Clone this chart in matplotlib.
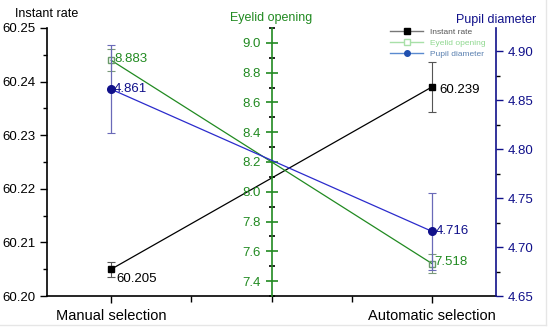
import matplotlib.pyplot as plt
from matplotlib.ticker import MultipleLocator, FixedLocator
from matplotlib.lines import Line2D

groups = ["Manual selection", "Automatic selection"]
instant_rate = [60.205, 60.239]
instant_err = [0.0014, 0.0046]
eyelid = [8.883, 7.518]
eyelid_err = [0.074, 0.064]
pupil = [4.861, 4.716]
pupil_err = [0.045, 0.039]

c_rate = "black"
c_eye = "#218a21"
c_pupil = "#10108a"
c_pline = "#2b2bcc"

plt.rcParams['font.family'] = ['Liberation Sans', 'DejaVu Sans']

fig = plt.figure(figsize=(5.5, 3.32), dpi=100)
# faint frame lines at the bottom and right of the picture
fig.add_artist(Line2D([0, 0.993], [0.022, 0.022], color='#e6e6e6', lw=1))
fig.add_artist(Line2D([0.993, 0.993], [0.022, 1], color='#e6e6e6', lw=1))

ax = fig.add_axes([0.0855, 0.1084, 0.8165, 0.8073])
x = [0, 1]

# left axis: instant rate
ax.errorbar(x, instant_rate, yerr=instant_err, color=c_rate, lw=0.9, marker='s', ms=5,
            ecolor='#555555', elinewidth=0.8, capsize=3, capthick=0.8, zorder=5)
ax.set_xlim(-0.2, 1.2)
ax.set_ylim(60.20, 60.25)
ax.yaxis.set_major_locator(MultipleLocator(0.01))
ax.yaxis.set_minor_locator(MultipleLocator(0.005))
ax.yaxis.set_major_formatter(plt.FormatStrFormatter('%.2f'))
ax.set_xticks(x)
ax.set_xticklabels(groups, fontsize=10.5)
ax.xaxis.set_minor_locator(FixedLocator([0.25, 0.5, 0.75]))
ax.tick_params(axis='y', labelsize=9.5, direction='out', length=5, width=1)
ax.tick_params(axis='y', which='minor', length=3, width=1)
ax.tick_params(axis='x', direction='out', length=5, width=1, pad=4)
ax.tick_params(axis='x', which='minor', length=4, width=1)
ax.spines['top'].set_visible(False)
ax.spines['right'].set_visible(False)
ax.spines['left'].set_linewidth(1.2)
ax.spines['bottom'].set_linewidth(1.2)
ax.text(-0.2, 60.2515, "Instant rate", ha='center', va='bottom', fontsize=9)
ax.annotate(f"{instant_rate[0]:.3f}", (0, instant_rate[0]), xytext=(4, -7),
            textcoords='offset points', va='center', fontsize=9.5)
ax.annotate(f"{instant_rate[1]:.3f}", (1, instant_rate[1]), xytext=(5, -2),
            textcoords='offset points', va='center', fontsize=9.5)

# middle axis: eyelid opening
ax2 = ax.twinx()
ax2.errorbar(x, eyelid, yerr=eyelid_err, color=c_eye, lw=0.9, marker='s', ms=5,
             mfc='none', mec='#6a9a6a', ecolor='#7a9a7a', elinewidth=0.8,
             capsize=3, capthick=0.8, zorder=4)
ax2.set_ylim(7.3, 9.1)
ax2.yaxis.set_major_locator(MultipleLocator(0.2))
ax2.yaxis.set_minor_locator(MultipleLocator(0.1))
ax2.yaxis.set_major_formatter(plt.FormatStrFormatter('%.1f'))
ax2.yaxis.tick_left()
ax2.yaxis.set_label_position('left')
ax2.spines['left'].set_position(('data', 0.5))
ax2.spines['left'].set_color(c_eye)
ax2.spines['left'].set_linewidth(1.2)
for s in ['top', 'right', 'bottom']:
    ax2.spines[s].set_visible(False)
ax2.tick_params(axis='y', colors=c_eye, labelsize=9.5, direction='inout', length=8, width=1.2)
ax2.tick_params(axis='y', which='minor', direction='inout', length=5, width=1.2)
ax2.text(0.5, 9.13, "Eyelid opening", color=c_eye, ha='center', va='bottom', fontsize=9)
ax2.annotate(f"{eyelid[0]:.3f}", (0, eyelid[0]), xytext=(2, 1),
             textcoords='offset points', va='center', color=c_eye, fontsize=9.5)
ax2.annotate(f"{eyelid[1]:.3f}", (1, eyelid[1]), xytext=(2, 1),
             textcoords='offset points', va='center', color=c_eye, fontsize=9.5)

# right axis: pupil diameter
ax3 = ax.twinx()
ax3.errorbar(x, pupil, yerr=pupil_err, color=c_pline, lw=0.9, marker='o', ms=5.5,
             mfc=c_pupil, mec=c_pupil, ecolor='#6a6ab8', elinewidth=0.9,
             capsize=3, capthick=0.8, zorder=6)
ax3.set_ylim(4.65, 4.9235)
ax3.yaxis.set_major_locator(MultipleLocator(0.05))
ax3.yaxis.set_minor_locator(MultipleLocator(0.025))
ax3.yaxis.set_major_formatter(plt.FormatStrFormatter('%.2f'))
ax3.spines['right'].set_color(c_pupil)
ax3.spines['right'].set_linewidth(1.2)
for s in ['top', 'left', 'bottom']:
    ax3.spines[s].set_visible(False)
ax3.tick_params(axis='y', colors=c_pupil, labelsize=9.5, direction='out', length=5, width=1)
ax3.tick_params(axis='y', which='minor', length=3, width=1)
ax3.text(1.2, 4.926, "Pupil diameter", color=c_pupil, ha='center', va='bottom', fontsize=9)
ax3.annotate(f"{pupil[0]:.3f}", (0, pupil[0]), xytext=(2, 0),
             textcoords='offset points', va='center', color=c_pupil, fontsize=9.5)
ax3.annotate(f"{pupil[1]:.3f}", (1, pupil[1]), xytext=(3, 0),
             textcoords='offset points', va='center', color=c_pupil, fontsize=9.5)

handles = [
    Line2D([], [], color='#777777', marker='s', ms=4, mfc='black', mec='black', lw=1),
    Line2D([], [], color='#a8e0a8', marker='s', ms=4, mfc='white', mec='#a8e0a8', lw=1),
    Line2D([], [], color='#5a8ad0', marker='o', ms=4, mfc='#2050b0', mec='#2050b0', lw=1),
]
leg = ax3.legend(handles, ["Instant rate", "Eyelid opening", "Pupil diameter"],
                 loc='upper right', bbox_to_anchor=(0.99, 1.02), fontsize=6, frameon=False,
                 handlelength=4, labelspacing=0.35, borderpad=0.2)
for t, c in zip(leg.get_texts(), ['#555555', '#90d890', '#5a80b0']):
    t.set_color(c)

fig.savefig("out.png", dpi=100)
